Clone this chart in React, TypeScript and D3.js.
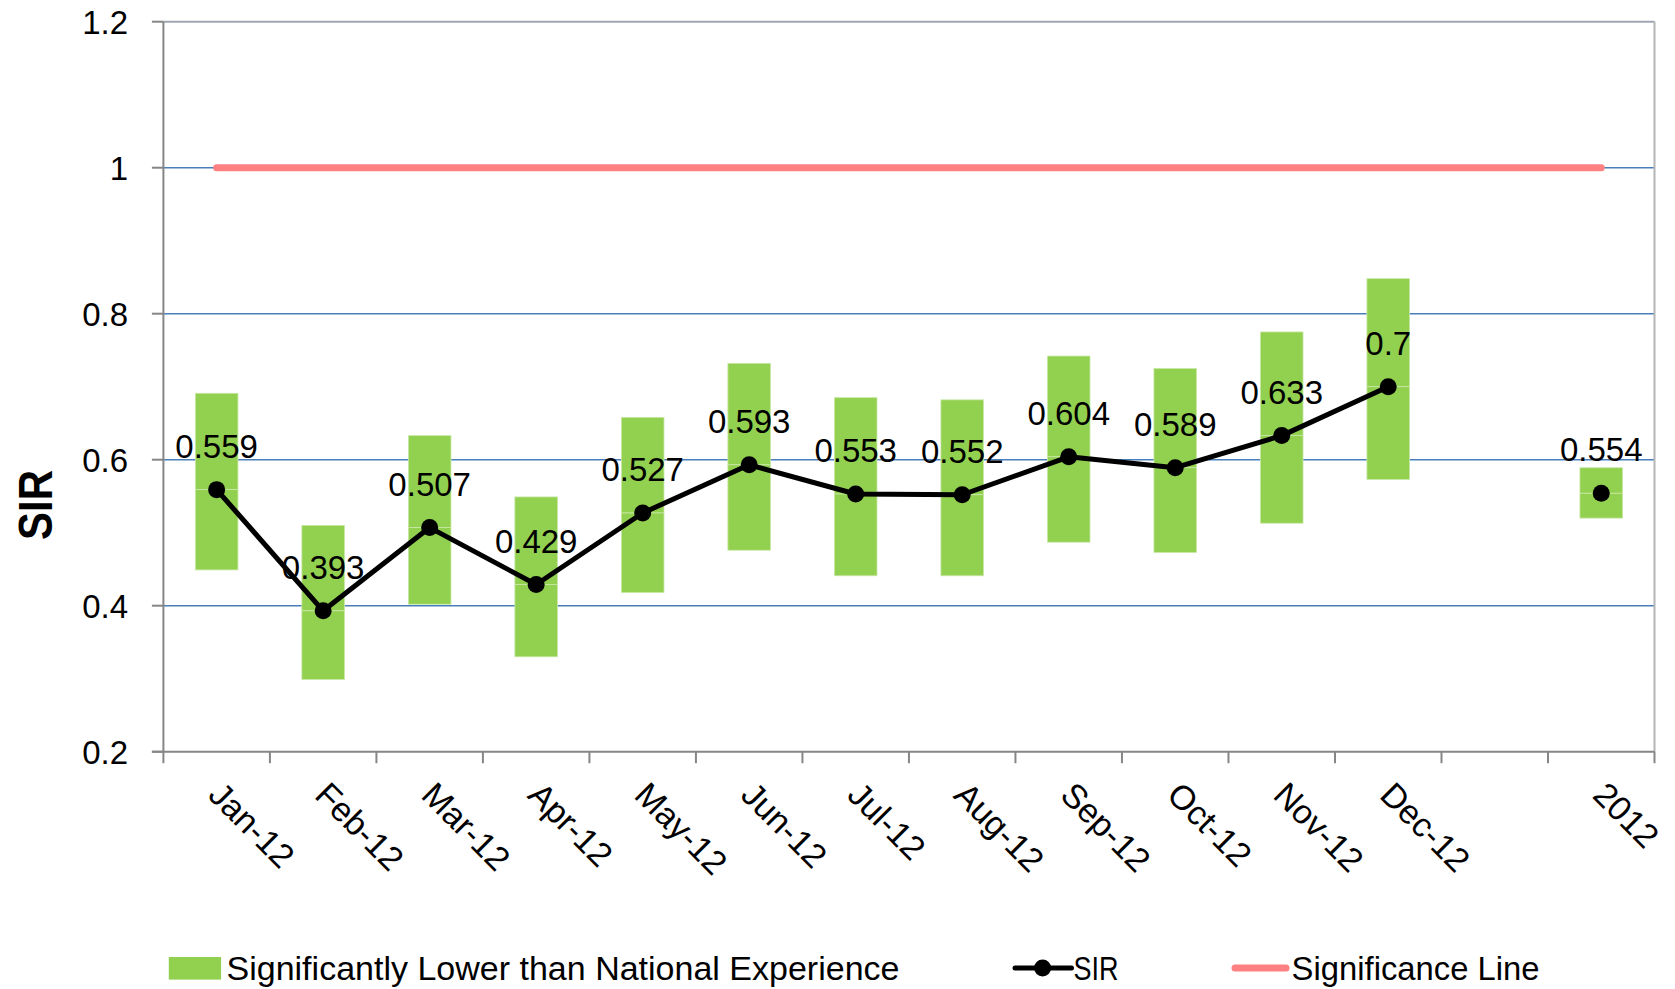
import React from "react";
import * as d3 from "d3";

// categories on the x axis (one blank slot between Dec-12 and 2012)
const categories = ["Jan-12", "Feb-12", "Mar-12", "Apr-12", "May-12", "Jun-12", "Jul-12", "Aug-12", "Sep-12", "Oct-12", "Nov-12", "Dec-12", "", "2012"];
const sir: (number | null)[] = [0.559, 0.393, 0.507, 0.429, 0.527, 0.593, 0.553, 0.552, 0.604, 0.589, 0.633, 0.7, null, 0.554];
const lower: (number | null)[] = [0.449, 0.299, 0.402, 0.33, 0.418, 0.476, 0.441, 0.441, 0.487, 0.473, 0.513, 0.573, null, 0.52];
const upper: (number | null)[] = [0.691, 0.51, 0.633, 0.549, 0.658, 0.732, 0.685, 0.682, 0.742, 0.725, 0.775, 0.848, null, 0.589];
const significance = categories.map(() => 1);
const yTicks = [0.2, 0.4, 0.6, 0.8, 1, 1.2];
const yTickLabels = ["0.2", "0.4", "0.6", "0.8", "1", "1.2"];

const width = 1675;
const height = 989;
const marginLeft = 163.4;
const marginRight = 20.5;
const marginTop = 21.7;
const plotBottom = 751.7;

const font = "'Liberation Sans', Arial, sans-serif";
const green = "#92D050";
const red = "#FF8080";
const grid = "#4A7EBB";
const axisGray = "#868686";

const keys = categories.map((c, i) => `${i}`);

const App = () => {
  const x = d3
    .scaleBand()
    .domain(keys)
    .range([marginLeft, width - marginRight])
    .padding(0);

  const y = d3.scaleLinear().domain([0.2, 1.2]).range([plotBottom, marginTop]);

  const cx = (i: number) => Number(x(keys[i])) + x.bandwidth() / 2;
  const barW = x.bandwidth() * 0.4;

  const sirLine = d3
    .line<number | null>()
    .defined((d) => d !== null)
    .x((d, i) => cx(i))
    .y((d) => y(d as number));

  const sigLine = d3
    .line<number>()
    .x((d, i) => cx(i))
    .y((d) => y(d));

  const tickXs = keys.map((k) => Number(x(k))).concat([width - marginRight]);

  return (
    <svg width={width} height={height} style={{ position: "absolute", left: 0, top: 0, background: "#fff" }}>
      {/* gridlines */}
      {yTicks.slice(1, -1).map((t) => (
        <line key={t} x1={marginLeft} x2={width - marginRight} y1={y(t)} y2={y(t)} stroke={grid} strokeWidth={1.5} />
      ))}
      {/* plot border top / right */}
      <line x1={marginLeft} x2={width - marginRight} y1={y(1.2)} y2={y(1.2)} stroke="#9EA7B3" strokeWidth={2} />
      <line x1={width - marginRight} x2={width - marginRight} y1={y(1.2)} y2={plotBottom} stroke="#B5B5B5" strokeWidth={2} />

      {/* confidence bars, stacked at the SIR value */}
      {categories.map((c, i) =>
        lower[i] === null ? null : (
          <g key={i}>
            <rect x={cx(i) - barW / 2} y={y(upper[i] as number)} width={barW} height={y(sir[i] as number) - y(upper[i] as number)} fill={green} stroke="#C9E8A6" strokeWidth={0.8} />
            <rect x={cx(i) - barW / 2} y={y(sir[i] as number)} width={barW} height={y(lower[i] as number) - y(sir[i] as number)} fill={green} stroke="#C9E8A6" strokeWidth={0.8} />
          </g>
        )
      )}

      {/* significance line */}
      <path d={sigLine(significance) as string} fill="none" stroke={red} strokeWidth={7} strokeLinecap="round" />

      {/* SIR line */}
      <path d={sirLine(sir) as string} fill="none" stroke="#000" strokeWidth={5} strokeLinejoin="round" />
      {sir.map((d, i) => (d === null ? null : <circle key={i} cx={cx(i)} cy={y(d)} r={8.5} fill="#000" />))}

      {/* data labels */}
      {sir.map((d, i) =>
        d === null ? null : (
          <text key={i} x={cx(i)} y={y(d) - 32} textAnchor="middle" fontFamily={font} fontSize={33} fill="#000">
            {String(d)}
          </text>
        )
      )}

      {/* y axis */}
      <line x1={marginLeft} x2={marginLeft} y1={y(1.2)} y2={plotBottom} stroke={axisGray} strokeWidth={2} />
      {yTicks.map((t, i) => (
        <g key={t}>
          <line x1={marginLeft - 11.5} x2={marginLeft} y1={y(t)} y2={y(t)} stroke={axisGray} strokeWidth={2} />
          <text x={128} y={y(t) + 12} textAnchor="end" fontFamily={font} fontSize={33} fill="#000">
            {yTickLabels[i]}
          </text>
        </g>
      ))}
      <text transform="translate(52,505) rotate(-90)" textAnchor="middle" fontFamily={font} fontWeight="bold" fontSize={48} textLength={70} lengthAdjust="spacingAndGlyphs" fill="#000">
        SIR
      </text>

      {/* x axis */}
      <line x1={marginLeft - 11.5} x2={width - marginRight} y1={plotBottom} y2={plotBottom} stroke={axisGray} strokeWidth={2} />
      {tickXs.map((tx, i) => (
        <line key={i} x1={tx} x2={tx} y1={plotBottom} y2={plotBottom + 11.5} stroke={axisGray} strokeWidth={2} />
      ))}
      {categories.map((c, i) =>
        c === "" ? null : (
          <text key={i} transform={`translate(${cx(i) - 10},${plotBottom + 45}) rotate(45)`} textAnchor="start" fontFamily={font} fontSize={34} fill="#000">
            {c}
          </text>
        )
      )}

      {/* legend */}
      <rect x={168.8} y={957} width={52.3} height={22.6} fill={green} />
      <text x={226.5} y={980} fontFamily={font} fontSize={33} textLength={673} lengthAdjust="spacingAndGlyphs" fill="#000">
        Significantly Lower than National Experience
      </text>
      <line x1={1015} x2={1071.5} y1={968} y2={968} stroke="#000" strokeWidth={5} strokeLinecap="round" />
      <circle cx={1042.6} cy={968} r={8.5} fill="#000" />
      <text x={1073.6} y={980} fontFamily={font} fontSize={33} textLength={45} lengthAdjust="spacingAndGlyphs" fill="#000">
        SIR
      </text>
      <line x1={1235} x2={1286} y1={968} y2={968} stroke={red} strokeWidth={7} strokeLinecap="round" />
      <text x={1291.6} y={980} fontFamily={font} fontSize={33} textLength={248} lengthAdjust="spacingAndGlyphs" fill="#000">
        Significance Line
      </text>
    </svg>
  );
};

export default App;
